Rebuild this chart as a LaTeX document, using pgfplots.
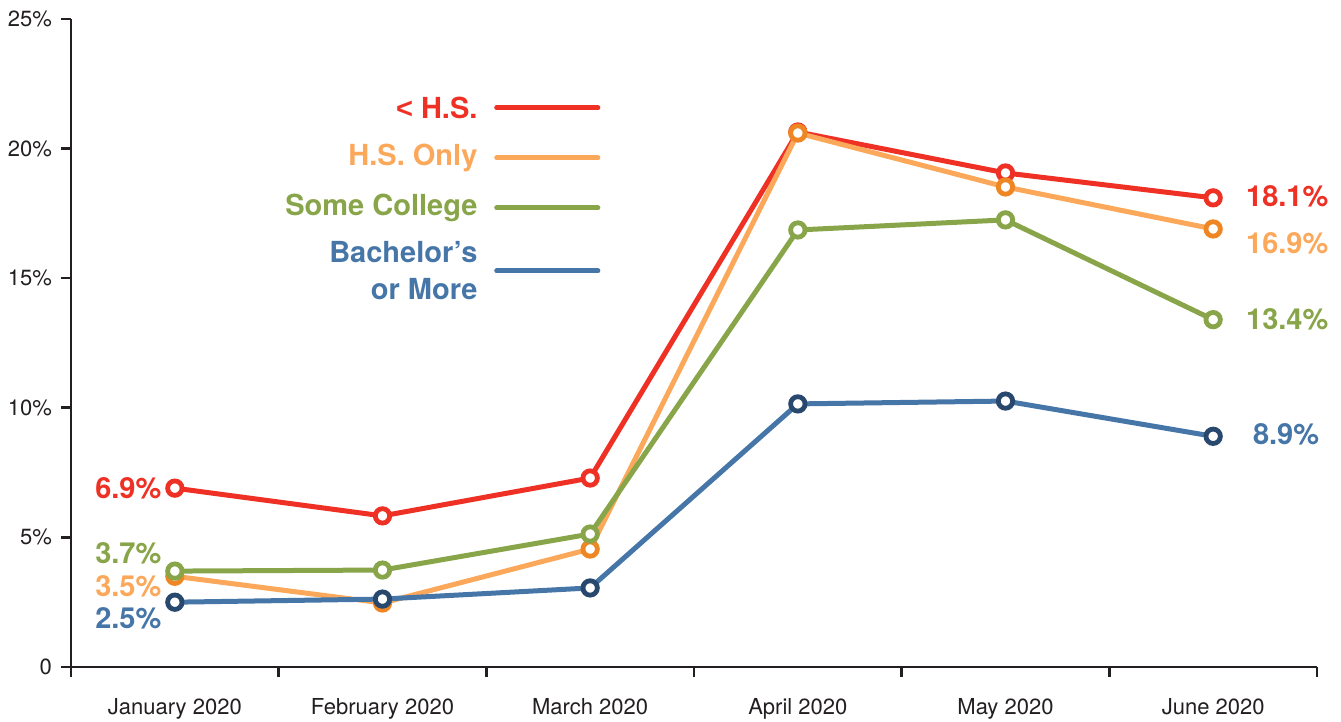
\documentclass[border=0pt]{standalone}
\usepackage{fontspec}
\setmainfont{TeX Gyre Heros}
\newfontfamily\ltsfont{Liberation Sans}
\usepackage{pgfplots}
\pgfplotsset{compat=1.18}
\definecolor{cRed}{HTML}{EE3124}
\definecolor{cOrange}{HTML}{FBA85B}
\definecolor{cOrangeD}{HTML}{EE8624}
\definecolor{cGreen}{HTML}{89A54A}
\definecolor{cBlue}{HTML}{4676A8}
\definecolor{cBlueD}{HTML}{29486E}
\definecolor{cText}{HTML}{231F20}
\pgfplotsset{
  ser/.style n args={2}{color=#1, line width=2.5pt, mark=*, mark size=3.6pt,
    mark options={fill=white, draw=#2, line width=2.4pt}},
}
\begin{document}
\begin{tikzpicture}
\begin{axis}[
    at={(0,0)}, anchor=south west,
    scale only axis, width=623pt, height=324pt, clip=false,
    xmin=-0.5, xmax=5.5, ymin=0, ymax=25,
    axis lines=left, axis line style={line width=1.3pt, cText, -},
    xtick={0,...,5},
    xticklabels={January 2020,February 2020,March 2020,April 2020,May 2020,June 2020},
    minor xtick={-0.5,0.5,...,5.5},
    major x tick style={draw=none},
    minor x tick style={line width=1.3pt, cText},
    minor tick length=5pt,
    ytick={0,5,...,25},
    yticklabels={0,5\%,10\%,15\%,20\%,25\%},
    major y tick style={line width=1.3pt, cText},
    major tick length=5pt,
    tick align=outside,
    tick label style={font=\fontsize{11}{13}\selectfont, text=cText},
    xticklabel style={yshift=-7pt},
    yticklabel style={xshift=-1pt},
]
% < H.S.
\addplot[ser={cRed}{cRed}] coordinates {(0,6.9) (1,5.83) (2,7.29) (3,20.64) (4,19.06) (5,18.1)};
% H.S. only
\addplot[ser={cOrange}{cOrangeD}] coordinates {(0,3.5) (1,2.47) (2,4.55) (3,20.6) (4,18.52) (5,16.9)};
% some college
\addplot[ser={cGreen}{cGreen}] coordinates {(0,3.7) (1,3.74) (2,5.13) (3,16.86) (4,17.25) (5,13.4)};
% bachelor's or more
\addplot[ser={cBlue}{cBlueD}] coordinates {(0,2.5) (1,2.62) (2,3.05) (3,10.15) (4,10.26) (5,8.9)};

% legend, drawn by hand
\begin{scope}[line width=2.5pt, line cap=round]
\draw[cRed] (axis cs:1.55,21.57) -- (axis cs:2.037,21.57);
\draw[cOrange] (axis cs:1.55,19.64) -- (axis cs:2.037,19.64);
\draw[cGreen] (axis cs:1.55,17.71) -- (axis cs:2.037,17.71);
\draw[cBlue] (axis cs:1.55,15.28) -- (axis cs:2.037,15.28);
\end{scope}
\begin{scope}[font=\fontsize{14.5}{18.5}\selectfont\bfseries, anchor=east, inner sep=0pt]
\node[cRed] at (axis cs:1.459,21.57) {{\ltsfont <} H.S.};
\node[cOrange] at (axis cs:1.459,19.64) {H.S. Only};
\node[cGreen] at (axis cs:1.459,17.71) {Some College};
\node[cBlue, align=right] at (axis cs:1.459,15.28) {Bachelor’s\\or More};
\end{scope}

% end labels
\begin{scope}[font=\fontsize{14.5}{17}\selectfont\bfseries, inner sep=0pt]
\node[cRed, anchor=east] at (axis cs:-0.063,6.9) {6.9\%};
\node[cGreen, anchor=east] at (axis cs:-0.063,4.4) {3.7\%};
\node[cOrange, anchor=east] at (axis cs:-0.063,3.13) {3.5\%};
\node[cBlue, anchor=east] at (axis cs:-0.063,1.89) {2.5\%};
\node[cRed, anchor=west] at (axis cs:5.157,18.17) {18.1\%};
\node[cOrange, anchor=west] at (axis cs:5.157,16.36) {16.9\%};
\node[cGreen, anchor=west] at (axis cs:5.157,13.43) {13.4\%};
\node[cBlue, anchor=west] at (axis cs:5.19,8.99) {8.9\%};
\end{scope}
\end{axis}
\pgfresetboundingbox
\path (-35.5pt,-27.5pt) rectangle (635pt,333.5pt);
\end{tikzpicture}
\end{document}
